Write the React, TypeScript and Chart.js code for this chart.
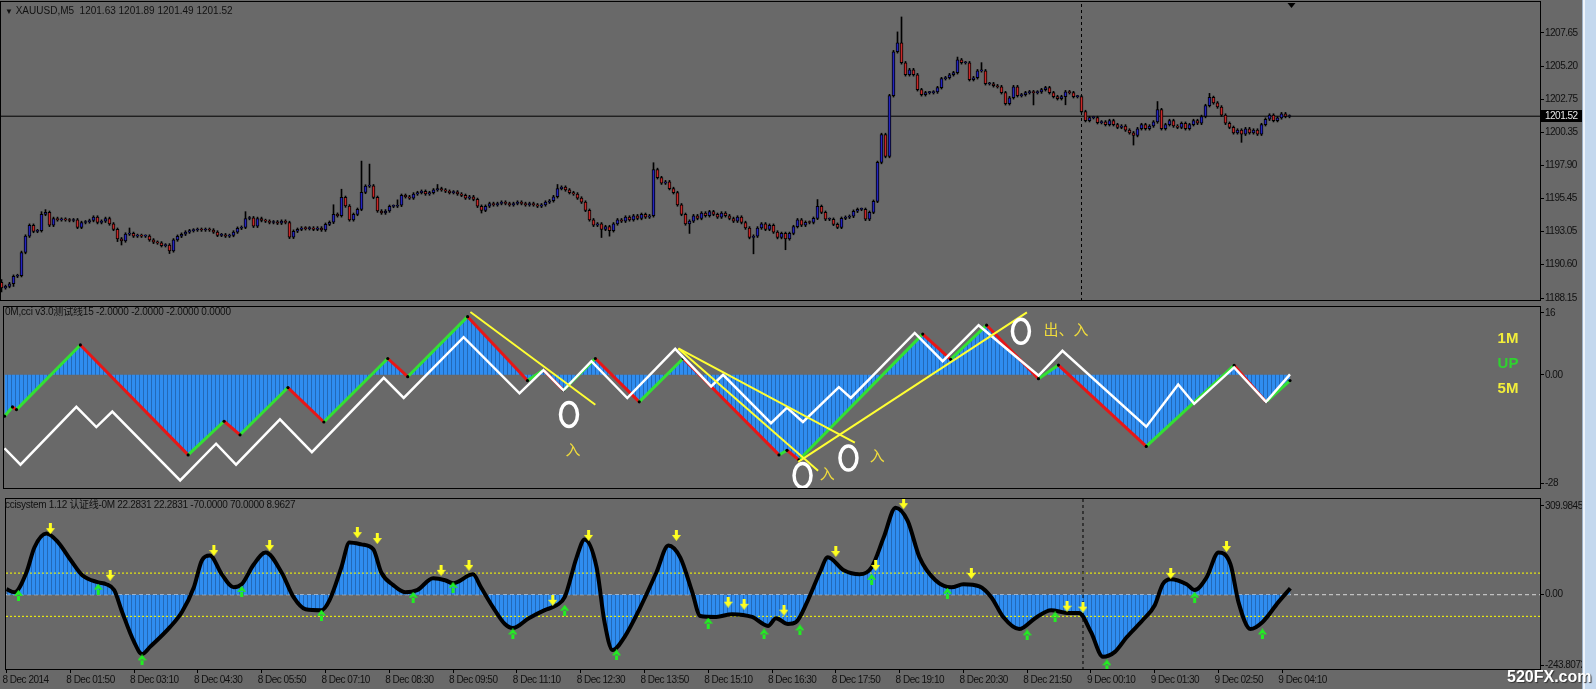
import React, { useEffect, useRef } from 'react';
import { Chart, registerables } from 'chart.js';

Chart.register(...registerables);

// ================= Price window (XAUUSD, M5) =================
const firstOpen = 1189.3;
const closes = [
  1188.9,1189.0,1189.2,1189.75,1189.8,1191.5,1192.7,1193.5,1193.05,1193.1,1194.3,1194.45,1193.5,1194.0,1193.9,1193.95,1193.9,1193.85,1193.9,1193.35,
  1193.7,1193.75,1193.85,1194.1,1193.7,1193.8,1194.0,1193.6,1193.2,1192.5,1192.35,1192.85,1192.9,1192.7,1192.75,1192.7,1192.7,1192.42,1192.25,1192.2,
  1192.0,1192.05,1191.62,1192.42,1192.69,1192.84,1193.0,1193.1,1193.15,1193.2,1193.15,1193.2,1193.15,1193.0,1192.76,1192.8,1192.7,1192.75,1193.0,1193.28,
  1193.35,1194.0,1194.05,1193.43,1194.0,1193.85,1193.8,1193.7,1193.75,1193.65,1193.8,1193.7,1192.62,1193.06,1193.2,1193.3,1193.25,1193.3,1193.2,1193.3,
  1193.15,1193.57,1193.72,1194.31,1194.2,1195.55,1194.92,1193.9,1194.3,1194.67,1195.92,1196.38,1196.4,1195.55,1194.55,1194.4,1194.55,1194.89,1194.9,1194.97,
  1195.7,1195.6,1195.5,1195.8,1195.9,1196.0,1195.8,1195.9,1196.1,1196.2,1196.1,1196.0,1195.9,1195.95,1195.8,1195.7,1195.5,1195.6,1195.4,1194.9,
  1194.6,1194.9,1195.1,1195.0,1195.1,1195.2,1195.1,1195.0,1195.1,1195.2,1195.1,1195.0,1195.1,1195.0,1194.9,1195.0,1195.2,1195.3,1195.6,1196.2,
  1196.3,1196.1,1195.9,1195.8,1195.5,1195.2,1194.6,1193.9,1193.5,1193.6,1193.2,1193.4,1193.1,1193.6,1193.9,1193.8,1194.1,1193.9,1194.2,1194.0,
  1194.3,1194.1,1194.2,1197.6,1197.0,1196.6,1196.7,1196.2,1195.9,1195.0,1194.3,1193.6,1193.8,1194.2,1194.0,1194.4,1194.2,1194.5,1194.3,1194.1,
  1194.4,1194.2,1194.0,1193.8,1194.1,1193.7,1193.3,1192.6,1192.7,1193.3,1193.6,1193.2,1193.5,1193.0,1192.6,1192.9,1192.5,1192.9,1193.4,1193.9,
  1193.5,1193.72,1193.7,1194.01,1194.89,1194.45,1193.94,1193.94,1193.57,1193.35,1194.01,1194.09,1194.16,1194.53,1194.67,1194.67,1193.94,1194.45,1195.26,1198.12,
  1200.17,1198.56,1203.03,1206.26,1206.92,1205.45,1204.57,1204.94,1204.57,1203.47,1203.1,1203.25,1203.25,1203.3,1203.62,1204.28,1204.35,1204.57,1204.72,1205.67,
  1205.45,1205.45,1204.21,1204.35,1204.86,1204.86,1203.91,1203.91,1203.76,1203.69,1203.25,1202.44,1202.88,1203.69,1203.03,1203.1,1203.25,1203.32,1203.25,1203.3,
  1203.47,1203.62,1203.25,1202.96,1202.81,1202.96,1203.32,1203.25,1202.96,1202.96,1201.86,1201.2,1201.42,1201.42,1201.05,1201.1,1200.9,1201.2,1200.9,1200.7,
  1200.8,1200.5,1200.3,1200.1,1200.6,1200.9,1200.6,1200.8,1201.1,1202.0,1200.6,1200.9,1201.2,1200.8,1200.7,1201.0,1200.6,1200.9,1201.2,1201.0,
  1201.5,1202.3,1202.9,1202.5,1202.2,1201.6,1201.0,1200.7,1200.3,1200.5,1200.2,1200.6,1200.3,1200.5,1200.2,1200.9,1201.3,1201.6,1201.2,1201.4,1201.7,1201.5,1201.52,
];
// wick lengths beyond the body, in tenths of a dollar
const wickUp = [
  2,1,1,1,1,1,1,1,1,1,2,2,1,1,1,1,1,1,1,1,
  1,1,1,1,1,1,1,1,1,1,1,1,4,1,1,1,1,1,1,1,
  1,1,1,1,1,1,1,1,1,1,1,1,1,1,1,1,1,1,1,1,
  1,5,1,1,1,1,1,1,1,1,1,1,1,1,1,1,1,1,1,1,
  1,1,1,7,1,6,1,1,1,1,23,1,16,1,1,1,1,1,1,4,
  1,1,1,1,1,1,1,1,1,3,1,1,1,1,1,1,1,1,1,1,
  1,1,1,1,1,1,1,1,1,1,1,1,1,1,1,1,1,1,1,3,
  1,1,1,1,1,1,1,1,1,1,1,1,1,1,1,1,1,1,1,1,
  1,1,1,5,1,1,1,1,1,1,1,1,1,1,1,1,1,1,1,1,
  1,1,1,1,1,1,1,1,1,1,1,1,1,1,1,1,1,1,1,1,
  1,1,1,1,5,1,1,1,1,1,1,1,1,1,1,1,1,1,1,1,
  1,1,1,1,8,19,1,1,1,1,1,1,1,1,1,1,1,1,1,2,
  1,1,1,1,1,6,1,1,1,1,1,1,1,1,1,1,1,1,1,1,
  1,1,1,1,1,1,1,1,1,1,1,1,1,1,1,1,1,1,1,1,
  1,1,1,1,1,1,1,1,1,6,1,1,1,1,1,1,1,1,1,1,
  1,1,3,1,1,1,1,1,1,1,1,1,1,1,1,1,1,1,1,1,1,1,1,
];
const wickDown = [
  3,1,1,2,1,1,1,1,1,1,1,1,1,1,1,1,1,1,1,1,
  1,1,1,1,1,1,1,1,1,2,3,1,1,1,1,1,1,1,1,1,
  1,1,2,1,1,1,1,1,1,1,1,1,1,1,1,1,1,1,1,1,
  1,1,1,1,1,1,1,1,1,1,1,1,1,1,1,1,1,1,1,1,
  1,1,1,1,1,1,1,1,1,1,1,1,1,1,1,1,1,1,1,1,
  1,1,1,1,1,1,1,1,1,1,1,1,1,1,1,1,1,1,1,1,
  2,1,1,1,1,1,1,1,1,1,1,1,1,1,1,1,1,1,1,1,
  1,1,1,1,1,1,1,1,1,1,6,1,4,1,1,1,1,1,1,1,
  1,1,1,1,1,1,1,1,1,1,1,1,7,1,1,1,1,1,1,1,
  1,1,1,1,1,1,1,1,12,1,1,1,1,1,1,1,8,1,1,1,
  1,1,1,1,1,1,1,1,1,1,1,1,1,1,1,1,1,1,1,1,
  1,1,1,1,1,1,1,1,1,1,1,1,1,1,1,1,1,1,1,1,
  1,1,1,1,1,1,1,1,1,1,1,1,1,1,1,1,1,1,9,1,
  1,1,1,1,1,1,6,1,1,1,1,1,1,1,1,1,1,1,1,1,
  1,1,1,7,1,1,1,1,1,1,1,1,1,1,1,1,1,1,1,1,
  1,1,1,1,1,1,1,1,1,1,6,1,1,1,1,1,1,1,1,1,1,1,1,
];
const priceTicks = [1207.65, 1205.2, 1202.75, 1200.35, 1197.9, 1195.45, 1193.05, 1190.6, 1188.15];
const priceMin = 1187.93;
const priceMax = 1209.92;
const lastPrice = 1201.52;
const separatorBar = 270;

// ================= Time axis =================
const xTickBars = [0, 16, 32, 48, 64, 80, 96, 112, 128, 144, 160, 176, 192, 208, 224, 240, 256, 272, 288, 304, 320];
const xTickLabels = [
  '8 Dec 2014', '8 Dec 01:50', '8 Dec 03:10', '8 Dec 04:30', '8 Dec 05:50', '8 Dec 07:10', '8 Dec 08:30',
  '8 Dec 09:50', '8 Dec 11:10', '8 Dec 12:30', '8 Dec 13:50', '8 Dec 15:10', '8 Dec 16:30', '8 Dec 17:50',
  '8 Dec 19:10', '8 Dec 20:30', '8 Dec 21:50', '9 Dec 00:10', '9 Dec 01:30', '9 Dec 02:50', '9 Dec 04:10',
];

// ================= 0M,cci window =================
const zzBars = [0, 2, 3, 19, 46, 55, 59, 71, 80, 96, 101, 116, 131, 135, 140, 148, 159, 170, 194, 196, 199, 230, 237, 246, 259, 264, 286, 308, 316, 322];
const zzValues = [-10.7, -8.3, -9, 7.7, -20.7, -12, -15.5, -3.3, -12.2, 4.2, -0.5, 15, -1.5, 1.2, -4, 4.2, -7, 4.2, -20.7, -19.5, -22, 10.5, 4, 12.8, -1, 2.5, -18.5, 2.4, -7, -1.5];
const whiteBars = [0, 4, 18, 23, 27, 44, 53, 58, 69, 77, 95, 100, 115, 129, 135, 140, 147, 156, 168, 177, 180, 192, 196, 200, 209, 212, 228, 235, 244, 259, 265, 286, 294, 298, 308, 316, 322];
const whiteValues = [-19, -23.2, -8.3, -13.5, -9.5, -27.3, -17.8, -23.2, -11.5, -20, -0.8, -6, 9.7, -4.8, 1.2, -4, 3.5, -6, 6.7, -3, 0, -12.5, -8.5, -12.2, -3.2, -6, 10.8, 3.5, 12.8, -0.2, 6.2, -13.4, -2.5, -7.5, 1.9, -7, 0.1];
const yellowFromBar = [116.7, 168.8, 168.8, 198.8];
const yellowFromVal = [16.2, 6.8, 6.8, -22.5];
const yellowToBar = [148, 213, 203.8, 256.1];
const yellowToVal = [-7.75, -17.5, -24.8, 16.1];
const circleBars = [141.4, 199.9, 211.4, 254.6];
const circleValues = [-10.25, -26, -21.5, 11.25];
const noteBars = [142.4, 206.1, 218.6, 265.9];
const noteValues = [-19.25, -25.5, -20.75, 11.75];
const noteTexts = ['入', '入', '入', '出、入'];
const midTicks = [16, 0, -28];
const midTickLabels = ['16', '0.00', '-28'];
const midMin = -29.5;
const midMax = 17.5;

// ================= ccisystem window =================
const cciBars = [0,2,5,7,10,13,16,19,23,25,27,29,32,34,36,41,44,47,49,51,54,57,59,62,65,69,72,75,79,81,84,86,89,92,94,97,100,103,107,110,112,117,119,122,125,127,131,135,138,140,143,145,148,150,152,155,159,163,166,169,172,174,178,182,187,191,193,196,198,201,204,206,210,214,217,220,223,226,229,233,237,240,244,247,250,254,258,262,266,269,272,275,278,281,285,288,290,292,296,298,301,304,307,309,312,315,319,322];
const cciValues = [18,8,72,153,198,169,114,63,40,34,15,-56,-153,-192,-169,-105,-56,24,111,127,66,24,34,98,137,72,-8,-47,-50,-18,89,169,163,147,72,31,8,15,53,47,37,66,24,-40,-95,-108,-76,-50,-34,-8,121,179,89,-89,-179,-137,-40,72,159,120,8,-69,-72,-63,-72,-101,-76,-95,-89,-18,72,121,79,66,89,185,282,240,121,47,24,34,27,-8,-72,-111,-76,-50,-59,-59,-121,-201,-185,-137,-82,-34,34,50,34,15,56,137,98,-24,-111,-89,-24,21];
const downArrowBars = [11, 26, 52, 66, 88, 93, 109, 116, 137, 146, 168, 181, 185, 195, 208, 218, 225, 242, 266, 270, 292, 306];
const downArrowValues = [214, 63, 143, 159, 201, 182, 79, 95, -18, 192, 192, -24, -31, -50, 140, 95, 295, 69, -37, -40, 69, 156];
const upArrowBars = [3, 23, 34, 59, 79, 102, 112, 127, 140, 153, 176, 190, 199, 217, 236, 256, 263, 276, 298, 315];
const upArrowValues = [-2, 18, -211, 11, -66, -8, 24, -127, -50, -195, -92, -127, -114, 50, 5, -130, -72, -227, -8, -127];
const cciMin = -243.8072;
const cciMax = 309.9845;
const cciLevels = [70, -70];
const cciTickValues = [287.83, 0, -227.99];
const cciTickLabels = ['309.9845', '0.00', '-243.8072'];

// ================= styling =================
const BG = '#696969';
const TEXT = '#111111';
const AXIS_FONT = "'Liberation Sans', Arial, sans-serif";
const TITLE_FONT = "'Liberation Sans', 'Noto Sans CJK SC', sans-serif";
const AXIS_W = 55;
const X_MIN = -0.125;
const X_MAX = 384.875;
const BULL = '#2424c0';
const BEAR = '#c82828';
const ZZ_UP = '#33e033';
const ZZ_DOWN = '#e81616';
const HIST_BLUE = '#2f8df0';
const HIST_GAP = '#2369b8';
const YELLOW = '#ffff33';

const xAxis = (display: boolean) => ({
  type: 'linear',
  display,
  min: X_MIN,
  max: X_MAX,
  offset: false,
  afterBuildTicks: (s: any) => { s.ticks = xTickBars.map((v) => ({ value: v })); },
  afterFit: (s: any) => { if (display) s.height = 19; s.paddingLeft = 0; s.paddingRight = 0; },
  ticks: {
    align: 'start', maxRotation: 0, minRotation: 0, autoSkip: false, padding: 1, color: TEXT,
    labelOffset: -4,
    font: { family: AXIS_FONT, size: 10 },
    callback: (_v: any, i: number) => xTickLabels[i],
  },
  grid: { drawOnChartArea: false, drawTicks: true, tickLength: 3, color: '#000', offset: false },
  border: { display: false },
});

const yAxis = (min: number, max: number, tickValues: number[], labels: string[]) => ({
  type: 'linear',
  position: 'right',
  min,
  max,
  afterBuildTicks: (s: any) => { s.ticks = tickValues.map((v) => ({ value: v })); },
  afterFit: (s: any) => { s.width = AXIS_W; s.paddingTop = 0; s.paddingBottom = 0; },
  ticks: {
    autoSkip: false, padding: 1, color: TEXT,
    font: { family: AXIS_FONT, size: 10 },
    callback: (_v: any, i: number) => labels[i],
  },
  grid: { drawOnChartArea: false, drawTicks: true, tickLength: 3, color: '#000' },
  border: { display: false },
});

// condensed text, like the terminal's narrow UI font
const narrowText = {
  id: 'narrowText',
  beforeDraw(chart: any) {
    try { chart.ctx.letterSpacing = '-0.5px'; } catch (e) { /* ignore */ }
  },
};

const framePlugin = {
  id: 'frame',
  afterDraw(chart: any) {
    const { ctx, chartArea: a } = chart;
    ctx.save();
    ctx.strokeStyle = '#000';
    ctx.lineWidth = 1;
    ctx.strokeRect(a.left - 0.5, a.top - 0.5, a.right - a.left, a.bottom - a.top);
    ctx.restore();
  },
};

function makePattern(ctx: CanvasRenderingContext2D) {
  const c = document.createElement('canvas');
  c.width = 4; c.height = 1;
  const g = c.getContext('2d')!;
  g.fillStyle = HIST_BLUE; g.fillRect(0, 0, 3, 1);
  g.fillStyle = HIST_GAP; g.fillRect(3, 0, 1, 1);
  return ctx.createPattern(c, 'repeat');
}

function makeArrow(color: string, down: boolean) {
  const c = document.createElement('canvas');
  c.width = 9; c.height = 11;
  const g = c.getContext('2d')!;
  g.fillStyle = color;
  g.beginPath();
  if (down) {
    g.rect(3, 0, 3, 6);
    g.moveTo(0, 5); g.lineTo(9, 5); g.lineTo(4.5, 11); g.closePath();
  } else {
    g.rect(3, 5, 3, 6);
    g.moveTo(0, 6); g.lineTo(9, 6); g.lineTo(4.5, 0); g.closePath();
  }
  g.fill();
  return c;
}

const pts = (xs: number[], ys: number[]) => xs.map((x, i) => ({ x, y: ys[i] }));
const hline = (v: number) => [{ x: X_MIN, y: v }, { x: X_MAX, y: v }];

export default function App() {
  const c1 = useRef<HTMLCanvasElement>(null);
  const c2 = useRef<HTMLCanvasElement>(null);
  const c3 = useRef<HTMLCanvasElement>(null);

  useEffect(() => {
    const charts: Chart[] = [];
    const common = {
      responsive: false,
      animation: false,
      devicePixelRatio: 1,
      events: [],
      plugins: { legend: { display: false }, tooltip: { enabled: false } },
    };

    // ---------- price window ----------
    const opens = closes.map((c, i) => (i === 0 ? firstOpen : closes[i - 1]));
    const highs = closes.map((c, i) => Math.max(opens[i], c) + wickUp[i] / 10);
    const lows = closes.map((c, i) => Math.min(opens[i], c) - wickDown[i] / 10);

    const priceOverlay = {
      id: 'priceOverlay',
      afterDraw(chart: any) {
        const { ctx, scales, chartArea: a } = chart;
        const py = Math.round(scales.y.getPixelForValue(lastPrice));
        ctx.save();
        ctx.fillStyle = '#000';
        ctx.fillRect(a.right, py - 6, 41, 12);
        ctx.fillStyle = '#e6e6e6';
        ctx.font = `10px ${AXIS_FONT}`;
        ctx.textBaseline = 'middle';
        ctx.textAlign = 'left';
        ctx.fillText(lastPrice.toFixed(2), a.right + 4, py + 0.5);
        const sx = scales.x.getPixelForValue(closes.length - 0.5);
        ctx.fillStyle = '#000';
        ctx.beginPath();
        ctx.moveTo(sx - 4, a.top + 1);
        ctx.lineTo(sx + 4, a.top + 1);
        ctx.lineTo(sx, a.top + 6);
        ctx.closePath();
        ctx.fill();
        ctx.restore();
      },
    };

    charts.push(new Chart(c1.current!, {
      type: 'bar',
      data: {
        datasets: [
          {
            type: 'line', data: hline(lastPrice), borderColor: '#000', borderWidth: 1,
            pointRadius: 0, order: 5,
          } as any,
          {
            type: 'line', data: [{ x: separatorBar, y: priceMin }, { x: separatorBar, y: priceMax }],
            borderColor: '#000', borderWidth: 1, borderDash: [3, 3], pointRadius: 0, order: 6,
          } as any,
          {
            type: 'bar', data: closes.map((_, i) => ({ x: i, y: [lows[i], highs[i]] })),
            backgroundColor: '#000', barThickness: 1, grouped: false, order: 3,
          } as any,
          {
            type: 'bar', data: closes.map((c, i) => ({ x: i, y: [opens[i], c] })),
            backgroundColor: closes.map((c, i) => (c >= opens[i] ? BULL : BEAR)),
            borderColor: '#000', borderWidth: 1, borderSkipped: false, barThickness: 3,
            minBarLength: 1, grouped: false, order: 2,
          } as any,
        ],
      },
      options: {
        ...common,
        layout: { padding: { left: 1, right: 0, top: 2, bottom: 2 } },
        scales: {
          x: xAxis(false),
          y: yAxis(priceMin, priceMax, priceTicks, priceTicks.map((v) => v.toFixed(2))),
        },
      } as any,
      plugins: [narrowText, framePlugin, priceOverlay],
    }));

    // ---------- 0M,cci window ----------
    const ctx2 = c2.current!.getContext('2d')!;
    const pattern2 = makePattern(ctx2);
    const notesPlugin = {
      id: 'notes',
      afterDatasetsDraw(chart: any) {
        const { ctx, chartArea: a, scales } = chart;
        ctx.save();
        ctx.letterSpacing = '0px';
        ctx.beginPath();
        ctx.rect(a.left, a.top, a.right - a.left, a.bottom - a.top);
        ctx.clip();
        ctx.strokeStyle = '#ffffff';
        ctx.lineWidth = 3.5;
        circleBars.forEach((b, i) => {
          ctx.beginPath();
          ctx.ellipse(scales.x.getPixelForValue(b), scales.y.getPixelForValue(circleValues[i]), 8.5, 12, 0, 0, Math.PI * 2);
          ctx.stroke();
        });
        ctx.fillStyle = '#f0dc3c';
        ctx.font = "15px 'Noto Sans CJK SC'";
        ctx.textAlign = 'center';
        ctx.textBaseline = 'middle';
        noteTexts.forEach((t, i) => {
          ctx.fillText(t, scales.x.getPixelForValue(noteBars[i]), scales.y.getPixelForValue(noteValues[i]));
        });
        ctx.restore();
      },
    };
    const yellowSets = yellowFromBar.map((b, i) => ({
      type: 'line',
      data: [{ x: b, y: yellowFromVal[i] }, { x: yellowToBar[i], y: yellowToVal[i] }],
      borderColor: YELLOW, borderWidth: 2, pointRadius: 0, order: 1,
    }));
    charts.push(new Chart(c2.current!, {
      type: 'line',
      data: {
        datasets: [
          {
            data: pts(zzBars, zzValues), borderColor: 'rgba(0,0,0,0)', borderWidth: 0,
            pointRadius: 0, fill: 'origin', backgroundColor: pattern2, order: 6,
          },
          {
            data: pts(zzBars, zzValues), borderColor: ZZ_UP, borderWidth: 3, fill: false,
            segment: { borderColor: (c: any) => (c.p1.parsed.y >= c.p0.parsed.y ? ZZ_UP : ZZ_DOWN) },
            pointRadius: 1.6, pointBackgroundColor: '#000', pointBorderWidth: 0, order: 3,
          },
          {
            data: pts(whiteBars, whiteValues), borderColor: '#ffffff', borderWidth: 2.5,
            pointRadius: 0, fill: false, order: 2,
          },
          ...yellowSets,
        ] as any,
      },
      options: {
        ...common,
        layout: { padding: { left: 1, right: 0, top: 1, bottom: 1 } },
        scales: {
          x: xAxis(false),
          y: yAxis(midMin, midMax, midTicks, midTickLabels),
        },
      } as any,
      plugins: [narrowText, framePlugin, notesPlugin],
    }));

    // ---------- ccisystem window ----------
    const ctx3 = c3.current!.getContext('2d')!;
    const pattern3 = makePattern(ctx3);
    const downImg = makeArrow('#ffff20', true);
    const upImg = makeArrow('#22ee22', false);
    charts.push(new Chart(c3.current!, {
      type: 'line',
      data: {
        datasets: [
          {
            data: hline(0), borderColor: '#d8d8d8', borderWidth: 1, borderDash: [4, 3],
            pointRadius: 0, order: 8,
          },
          {
            data: pts(cciBars, cciValues), borderColor: 'rgba(0,0,0,0)', borderWidth: 0,
            cubicInterpolationMode: 'monotone', pointRadius: 0, fill: 'origin',
            backgroundColor: pattern3, order: 7,
          },
          ...cciLevels.map((lv) => ({
            data: hline(lv), borderColor: '#ffff00', borderWidth: 1, borderDash: [2, 2],
            pointRadius: 0, order: 5,
          })),
          {
            data: [{ x: separatorBar, y: cciMin }, { x: separatorBar, y: cciMax }],
            borderColor: '#000', borderWidth: 1, borderDash: [3, 3], pointRadius: 0, order: 4,
          },
          {
            data: pts(cciBars, cciValues), borderColor: '#000', borderWidth: 4,
            cubicInterpolationMode: 'monotone', pointRadius: 0, fill: false, order: 3,
          },
          {
            data: pts(downArrowBars, downArrowValues), showLine: false, pointStyle: downImg,
            pointRadius: 5, order: 1,
          },
          {
            data: pts(upArrowBars, upArrowValues), showLine: false, pointStyle: upImg,
            pointRadius: 5, order: 1,
          },
        ] as any,
      },
      options: {
        ...common,
        layout: { padding: { left: 1, right: 0, top: 2, bottom: 0 } },
        scales: {
          x: xAxis(true),
          y: yAxis(cciMin, cciMax, cciTickValues, cciTickLabels),
        },
      } as any,
      plugins: [narrowText, framePlugin],
    }));

    return () => charts.forEach((c) => c.destroy());
  }, []);

  const titleStyle: React.CSSProperties = {
    position: 'absolute', left: 5, font: `10px ${TITLE_FONT}`, lineHeight: '12px',
    color: TEXT, whiteSpace: 'pre',
  };
  const badge: React.CSSProperties = {
    position: 'absolute', left: 1486, width: 44, textAlign: 'center',
    font: "bold 15px 'Liberation Sans', sans-serif", lineHeight: '18px',
  };

  return (
    <div style={{ position: 'absolute', left: 0, top: 0, width: 1596, height: 689, background: BG, overflow: 'hidden' }}>
      <canvas ref={c1} width={1596} height={303} style={{ position: 'absolute', left: 0, top: 0 }} />
      <canvas ref={c2} width={1596} height={190} style={{ position: 'absolute', left: 0, top: 303 }} />
      <canvas ref={c3} width={1596} height={196} style={{ position: 'absolute', left: 0, top: 493 }} />
      <div style={{ ...titleStyle, top: 5 }}>
        <span style={{ fontSize: 8 }}>▼</span>{' XAUUSD,M5  1201.63 1201.89 1201.49 1201.52'}
      </div>
      <div style={{ ...titleStyle, top: 306, letterSpacing: '-0.2px' }}>0M,cci v3.0测试线15 -2.0000 -2.0000 -2.0000 0.0000</div>
      <div style={{ ...titleStyle, top: 499, letterSpacing: '-0.3px' }}>ccisystem 1.12 认证线-0M 22.2831 22.2831 -70.0000 70.0000 8.9627</div>
      <div style={{ ...badge, top: 329, color: '#f2ee3a' }}>1M</div>
      <div style={{ ...badge, top: 354, color: '#2fd22f' }}>UP</div>
      <div style={{ ...badge, top: 379, color: '#f2ee3a' }}>5M</div>
      <div style={{
        position: 'absolute', left: 1582, top: 0, width: 14, height: 689,
        background: 'linear-gradient(to right, #9fb2c6 0px, #9fb2c6 1px, #eef4fb 1px, #eef4fb 3px, #c4d8ee 3px)',
      }} />
      <div style={{
        position: 'absolute', left: 1507, top: 668, font: "bold 16px 'Liberation Sans', sans-serif",
        color: '#ffffff', whiteSpace: 'pre', textShadow: '1px 1px 1px #333',
      }}>520FX.com</div>
    </div>
  );
}
